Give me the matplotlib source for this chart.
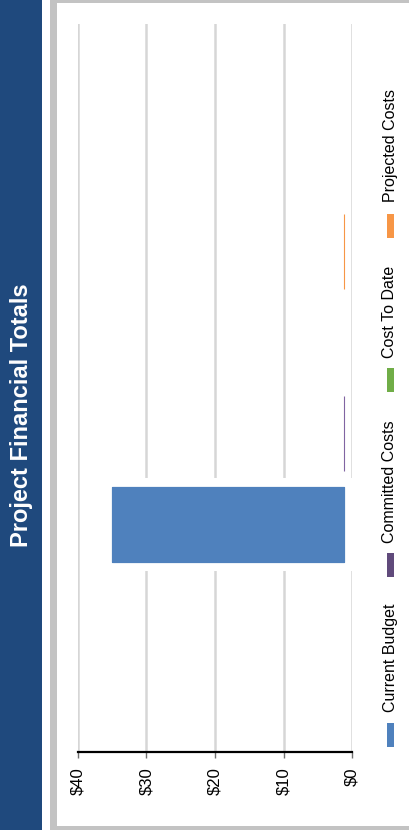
import matplotlib
matplotlib.use("Agg")
import matplotlib.pyplot as plt
import matplotlib.patheffects as pe
from matplotlib.patches import Rectangle
import numpy as np

plt.rcParams['font.family'] = ['Liberation Sans', 'DejaVu Sans']

title = "Project Financial Totals"
categories = ["Current Budget", "Committed Costs", "Cost To Date", "Projected Costs"]
values = [33.9, 0.0, np.nan, 0.0]   # nan = nothing drawn
base = 1.2                          # bars start slightly off the $0 line
colors = ["#4F81BD", "#8064A2", "#70AD47", "#F79646"]
legend_colors = ["#4F81BD", "#604A7B", "#70AD47", "#F79646"]
ticks = [0, 10, 20, 30, 40]
tick_labels = ["$0", "$10", "$20", "$30", "$40"]

W, H = 409, 838
fig = plt.figure(figsize=(W / 100, H / 100), dpi=100)

def fx(x):
    return x / W

def fy(y):
    return 1 - y / H

# blue title band
fig.patches.append(Rectangle((0, fy(830)), fx(42), 830 / H, transform=fig.transFigure,
                             facecolor="#1F497D", edgecolor="none", zorder=-10))
fig.text(fx(22), fy(415), title, rotation=90, ha="center", va="center",
         color="white", fontsize=17, fontweight="bold")

# gray frame around the chart
fig.patches.append(Rectangle((fx(50), fy(830)), fx(380), 830 / H, transform=fig.transFigure,
                             facecolor="#c3c3c3", edgecolor="none", zorder=-10))
fig.patches.append(Rectangle((fx(57), fy(826)), fx(380), 823 / H, transform=fig.transFigure,
                             facecolor="white", edgecolor="none", zorder=-9))

ax = fig.add_axes([fx(78), fy(752), 274 / W, 728 / H])
ax.set_facecolor("none")

pos = np.arange(len(categories))
for i, (v, c) in enumerate(zip(values, colors)):
    if np.isnan(v):
        continue
    bar = ax.barh(pos[i], v, left=base, height=0.835, color=c, edgecolor=c, linewidth=0.8)
    if v > 0:
        for p in bar.patches:
            p.set_path_effects([pe.withStroke(linewidth=13, foreground="white"), pe.Normal()])

ax.set_xlim(40, 0)
ax.set_ylim(-2.5, 5.5)
ax.set_xticks(ticks)
ax.set_xticklabels(tick_labels, rotation=90, fontsize=12)
ax.tick_params(axis="x", length=4, width=1, color="#707070", pad=7)
ax.set_yticks([])
ax.xaxis.grid(True, color="#d6d6d6", linewidth=1.8)
ax.set_axisbelow(True)
for s in ["top", "right", "left"]:
    ax.spines[s].set_visible(False)
ax.spines["bottom"].set_color("black")
ax.spines["bottom"].set_linewidth(1.6)

# legend, stacked vertically with rotated text
marker_y = [735, 565, 380.5, 226.5]
text_y = [658, 481.5, 311.5, 145.5]
for name, c, my, ty in zip(categories, legend_colors, marker_y, text_y):
    fig.patches.append(Rectangle((fx(387), fy(my + 12)), 7 / W, 24 / H,
                                 transform=fig.transFigure, facecolor=c, edgecolor="none"))
    fig.text(fx(390), fy(ty), name, rotation=90, ha="center", va="center",
             fontsize=11.5, color="black")

fig.savefig("out.png", dpi=100)
